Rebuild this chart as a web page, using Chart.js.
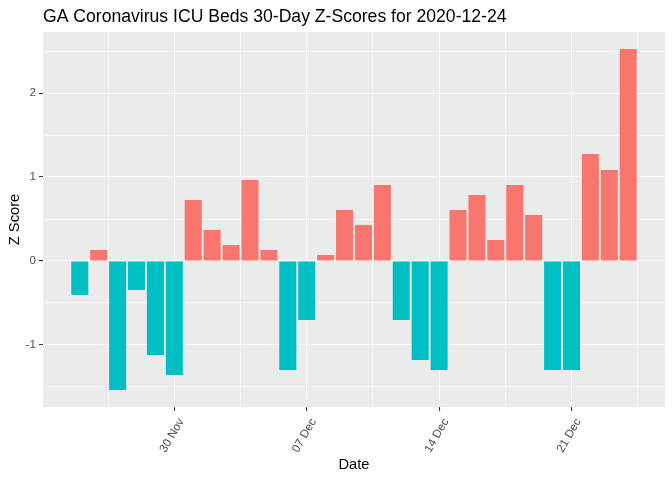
<!DOCTYPE html>
<html><head><meta charset="utf-8">
<script src="https://cdn.jsdelivr.net/npm/chart.js@4/dist/chart.umd.min.js"></script>
<style>html,body{margin:0;padding:0;background:#fff;}canvas{display:block;}</style>
</head><body>
<canvas id="c" width="672" height="480"></canvas>
<script>
const dates = [
  '2020-11-25','2020-11-26','2020-11-27','2020-11-28','2020-11-29','2020-11-30',
  '2020-12-01','2020-12-02','2020-12-03','2020-12-04','2020-12-05','2020-12-06',
  '2020-12-07','2020-12-08','2020-12-09','2020-12-10','2020-12-11','2020-12-12',
  '2020-12-13','2020-12-14','2020-12-15','2020-12-16','2020-12-17','2020-12-18',
  '2020-12-19','2020-12-20','2020-12-21','2020-12-22','2020-12-23','2020-12-24'
];
const zScores = [
  -0.405, 0.131, -1.536, -0.345, -1.119, -1.357,
  0.726, 0.369, 0.190, 0.964, 0.131, -1.298,
  -0.702, 0.071, 0.607, 0.429, 0.905, -0.702,
  -1.179, -1.298, 0.607, 0.786, 0.250, 0.905,
  0.548, -1.298, -1.298, 1.274, 1.083, 2.524
];
const tickDates = ['2020-11-30','2020-12-07','2020-12-14','2020-12-21'];
const tickLabels = ['30 Nov','07 Dec','14 Dec','21 Dec'];
const yMajorTicks = [-1, 0, 1, 2];

const POS = '#F8766D', NEG = '#00BFC4';
const FONT = '"Liberation Sans", Arial, Helvetica, sans-serif';

const DAY = 86400000;
const base = Date.parse(dates[0] + 'T00:00:00Z');
const dayOf = d => (Date.parse(d + 'T00:00:00Z') - base) / DAY;
const xs = dates.map(dayOf);
const majorX = tickDates.map(dayOf);
const minorX = [majorX[0] - 3.5].concat(majorX.map(v => v + 3.5));
const gridX = majorX.concat(minorX).sort((a, b) => a - b);
const labelX = v => { const i = majorX.indexOf(v); return i >= 0 ? tickLabels[i] : ''; };
const minorY = [yMajorTicks[0] - 0.5].concat(yMajorTicks.map(v => v + 0.5));
const gridY = yMajorTicks.concat(minorY).sort((a, b) => a - b);

const xLo = xs[0] - 0.45, xHi = xs[xs.length - 1] + 0.45, xPad = 0.05 * (xHi - xLo);
const yLo = Math.min(0, ...zScores), yHi = Math.max(0, ...zScores), yPad = 0.05 * (yHi - yLo);

const panelBg = {
  id: 'panelBg',
  beforeDraw(chart) {
    const { ctx, chartArea: a } = chart;
    ctx.save();
    ctx.fillStyle = '#EBEBEB';
    ctx.fillRect(a.left, a.top, a.right - a.left, a.bottom - a.top);
    ctx.restore();
  }
};

new Chart(document.getElementById('c'), {
  type: 'bar',
  data: {
    datasets: [{
      data: xs.map((x, i) => ({ x: x, y: zScores[i] })),
      backgroundColor: zScores.map(v => v > 0 ? POS : NEG),
      borderWidth: 0,
      categoryPercentage: 1,
      barPercentage: 0.9
    }]
  },
  options: {
    responsive: false,
    animation: false,
    devicePixelRatio: 1,
    layout: { padding: { left: 0, right: 7, top: 0, bottom: 0 } },
    plugins: {
      legend: { display: false },
      tooltip: { enabled: false },
      title: {
        display: true,
        text: 'GA Coronavirus ICU Beds 30-Day Z-Scores for 2020-12-24',
        align: 'start',
        fullSize: false,
        color: '#000000',
        font: { family: FONT, size: 17.6, weight: 'normal' },
        padding: { top: 6.2, bottom: 4.7 }
      }
    },
    scales: {
      x: {
        type: 'linear',
        min: xLo - xPad,
        max: xHi + xPad,
        offset: false,
        afterBuildTicks: s => { s.ticks = gridX.map(v => ({ value: v })); },
        afterFit: s => { s.height = 73; },
        ticks: {
          autoSkip: false, minRotation: 60, maxRotation: 60, padding: 5, labelOffset: 7,
          color: '#4D4D4D', font: { family: FONT, size: 11.7 },
          callback: v => labelX(v)
        },
        grid: {
          color: '#FFFFFF',
          lineWidth: c => majorX.includes(c.tick.value) ? 1.07 : 0.53,
          drawTicks: true, tickLength: 4, tickWidth: 1.07,
          tickColor: c => majorX.includes(c.tick.value) ? '#333333' : 'rgba(0,0,0,0)',
          offset: false
        },
        border: { display: false },
        title: {
          display: true, text: 'Date', color: '#000000',
          font: { family: FONT, size: 14.7 }, padding: { top: 0, bottom: 6.7 }
        }
      },
      y: {
        min: yLo - yPad,
        max: yHi + yPad,
        afterBuildTicks: s => { s.ticks = gridY.map(v => ({ value: v })); },
        afterFit: s => { s.width = 43; },
        ticks: {
          padding: 3, color: '#4D4D4D', font: { family: FONT, size: 11.7 },
          callback: v => yMajorTicks.includes(v) ? String(v) : ''
        },
        grid: {
          color: '#FFFFFF',
          lineWidth: c => yMajorTicks.includes(c.tick.value) ? 1.07 : 0.53,
          drawTicks: true, tickLength: 4, tickWidth: 1.07,
          tickColor: c => yMajorTicks.includes(c.tick.value) ? '#333333' : 'rgba(0,0,0,0)'
        },
        border: { display: false },
        title: {
          display: true, text: 'Z Score', color: '#000000',
          font: { family: FONT, size: 14.7 }, padding: { top: 6.2, bottom: 0 }
        }
      }
    }
  },
  plugins: [panelBg]
});
</script>
</body></html>
